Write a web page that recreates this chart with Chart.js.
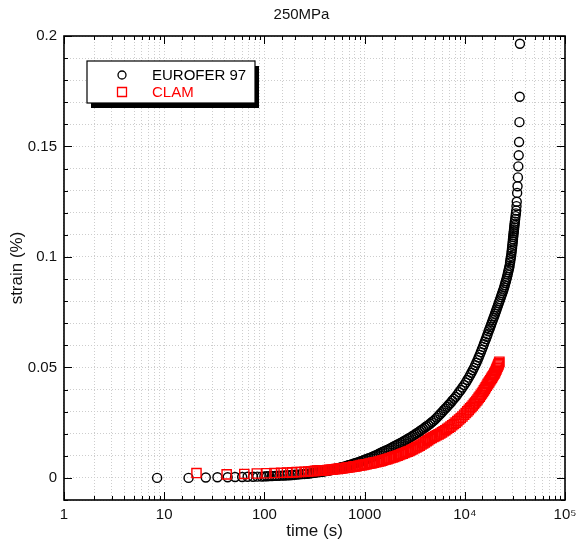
<!DOCTYPE html>
<html>
<head>
<meta charset="utf-8">
<script src="https://cdn.jsdelivr.net/npm/chart.js@4.4.0/dist/chart.umd.min.js"></script>
<style>
body { margin: 0; background: #fff; }
</style>
</head>
<body>
<canvas id="creep" width="577" height="542"></canvas>
<script>
// EUROFER 97 creep curve at 250 MPa, time (s) / strain (%)
var eurTime = [8.5, 17.5, 26, 34, 43, 51, 60, 68, 77, 85, 94,
  100, 106, 112, 119, 126, 133, 141, 150, 159, 168, 178, 189, 200, 212, 224, 238, 252, 267, 283,
  300, 312, 324, 337, 351, 365, 380, 395, 411, 427, 444, 462, 480, 500, 520, 541, 562, 585, 608, 633,
  658, 684, 712, 740, 770, 801, 833, 866, 901, 937, 974, 1013, 1054, 1096, 1140, 1185, 1233, 1282, 1333,
  1387, 1442, 1500, 1560, 1622, 1687, 1755, 1825, 1898, 1974, 2053, 2135, 2220, 2309, 2401, 2497, 2597,
  2701, 2809, 2921, 3038, 3160, 3286, 3417, 3554, 3696, 3844, 3998, 4158, 4324, 4497, 4677, 4864, 5058,
  5261, 5471, 5690, 5918, 6154, 6400, 6656, 6923, 7200, 7488, 7787, 8099, 8423, 8760, 9110, 9474, 9853,
  10247, 10600, 10950, 11300, 11650, 12000, 12350, 12700, 13050, 13400, 13750, 14100, 14450, 14800, 15150,
  15500, 15850, 16200, 16550, 16900, 17250, 17600, 17950, 18300, 18650, 19000, 19350, 19700, 20050, 20400,
  20750, 21100, 21450, 21800, 22150, 22500, 22900, 23250, 23600, 23950, 24300, 24700, 25050, 25400, 25750,
  26100, 26400, 26750, 27050, 27400, 27700, 28000, 28300, 28500, 28750, 29000, 29200, 29400, 29600, 29750,
  29950, 30100, 30250, 30400, 30550, 30700, 30850, 31000, 31150, 31300, 31450, 31600, 31850, 32100, 32350,
  32600, 32800, 33000, 33300, 33600, 33900, 34200, 34500, 34800, 35100, 35300, 35500];
var eurStrain = [0, 0, 0.0002, 0.0003, 0.0003, 0.0004, 0.0004, 0.0005, 0.0005, 0.0006, 0.0006,
  0.0007, 0.00075, 0.0008, 0.00085, 0.0009, 0.00095, 0.001, 0.00105, 0.0011, 0.0012, 0.0012, 0.0013,
  0.0014, 0.0015, 0.0016, 0.0017, 0.0018, 0.0019, 0.002,
  0.0022, 0.0023, 0.0024, 0.0025, 0.0026, 0.0027, 0.0028, 0.003, 0.0031, 0.0032, 0.0033, 0.0035, 0.0038,
  0.004, 0.0042, 0.0044, 0.0046, 0.0048, 0.005, 0.0052, 0.0054, 0.0057, 0.0059, 0.0061, 0.0064, 0.0066,
  0.0069, 0.0071, 0.0074, 0.0077, 0.008, 0.0083, 0.0086, 0.0089, 0.0092, 0.0095, 0.0098, 0.0102, 0.0105,
  0.0109, 0.0113, 0.0117, 0.012, 0.0124, 0.0127, 0.0131, 0.0135, 0.0139, 0.0144, 0.0147, 0.0151, 0.0155,
  0.0159, 0.0163, 0.0168, 0.0172, 0.0177, 0.0181, 0.0186, 0.0191, 0.0196, 0.0201, 0.0206, 0.0211, 0.0217,
  0.0222, 0.0228, 0.0234, 0.0239, 0.0245, 0.0252, 0.0258, 0.0265, 0.0273, 0.0281, 0.0289, 0.0297, 0.0306,
  0.0314, 0.0322, 0.0331, 0.0339, 0.0349, 0.0358, 0.0367, 0.0377, 0.0388, 0.0398, 0.0409, 0.042,
  0.0432, 0.0443, 0.0454, 0.0465, 0.0476, 0.0487, 0.0498, 0.051, 0.0521, 0.0533, 0.0545, 0.0557, 0.0569,
  0.0581, 0.0593, 0.0605, 0.0617, 0.0628, 0.0639, 0.065, 0.0663, 0.0673, 0.0683, 0.0693, 0.0704, 0.0714,
  0.0724, 0.0733, 0.0743, 0.0753, 0.0762, 0.0772, 0.0781, 0.079, 0.0799, 0.0808, 0.0818, 0.0827, 0.0835,
  0.0844, 0.0852, 0.0862, 0.0872, 0.0882, 0.0891, 0.0901, 0.091, 0.0921, 0.0931, 0.0941, 0.095, 0.096,
  0.0975, 0.0985, 0.0995, 0.1005, 0.1017, 0.1028, 0.1039, 0.105, 0.106, 0.107, 0.108, 0.109, 0.1099,
  0.1108, 0.1116, 0.1125, 0.1134, 0.1143, 0.1151, 0.116, 0.1172, 0.1185, 0.1197, 0.121, 0.123, 0.125,
  0.129, 0.132, 0.136, 0.141, 0.146, 0.152, 0.161, 0.1725, 0.1965];

// CLAM creep curve
var clamTime = [21, 42, 63, 84, 105, 126, 147, 168, 189, 210, 231, 252, 273, 294,
  312, 324, 337, 351, 365, 380, 395, 411, 427, 444, 462, 480, 500, 520, 541, 562, 585, 608, 633, 658, 684,
  712, 740, 770, 801, 833, 866, 901, 937, 974, 1013, 1054, 1096, 1140, 1185, 1233, 1282, 1333, 1387, 1442,
  1500, 1560, 1622, 1687, 1755, 1825, 1898, 1974, 2053, 2135, 2220, 2309, 2401, 2497, 2597, 2701, 2809,
  2921, 3038, 3160, 3286, 3417, 3554, 3696, 3844, 3998, 4158, 4324, 4497, 4677, 4864, 5058, 5261, 5471,
  5690, 5918, 6154, 6400, 6656, 6923, 7200, 7488, 7787, 8099, 8423, 8760, 9110, 9474, 9853, 10247, 10600,
  10950, 11300, 11650, 12000, 12350, 12700, 13050, 13400, 13750, 14100, 14450, 14800, 15150, 15500, 15850,
  16200, 16550, 16900, 17250, 17600, 17950, 18300, 18650, 19000, 19350, 19700, 20000, 20300, 20600, 20900,
  21200, 21450, 21700, 21950, 22150];
var clamStrain = [0.0022, 0.0016, 0.0018, 0.002, 0.0021, 0.0022, 0.0023, 0.0024, 0.0025, 0.0026, 0.0027,
  0.0028, 0.0029, 0.003,
  0.0031, 0.0032, 0.0033, 0.0033, 0.0034, 0.0034, 0.0035, 0.0035, 0.0036, 0.0037, 0.0037, 0.0038, 0.0039,
  0.004, 0.0041, 0.0042, 0.0043, 0.0044, 0.0045, 0.0046, 0.0047, 0.0048, 0.0049, 0.0051, 0.0052, 0.0053,
  0.0055, 0.0056, 0.0058, 0.0059, 0.0061, 0.0062, 0.0064, 0.0065, 0.0067, 0.0069, 0.0071, 0.0072, 0.0074,
  0.0076, 0.0078, 0.0081, 0.0083, 0.0085, 0.0088, 0.009, 0.0093, 0.0095, 0.0098, 0.0101, 0.0104, 0.0107,
  0.011, 0.0113, 0.0116, 0.0119, 0.0122, 0.0126, 0.013, 0.0134, 0.0138, 0.0142, 0.0146, 0.0151, 0.0156,
  0.0161, 0.0166, 0.0171, 0.0177, 0.0181, 0.0185, 0.0189, 0.0193, 0.0197, 0.0201, 0.0206, 0.0211, 0.0216,
  0.0221, 0.0227, 0.0232, 0.0238, 0.0244, 0.025, 0.0257, 0.0264, 0.0271, 0.0278, 0.0286, 0.0294, 0.0301,
  0.0308, 0.0315, 0.0321, 0.0328, 0.0335, 0.0341, 0.0348, 0.0355, 0.0362, 0.0368, 0.0375, 0.0382, 0.0389,
  0.0396, 0.0403, 0.041, 0.0417, 0.0424, 0.043, 0.0436, 0.0442, 0.0448, 0.0454, 0.046, 0.0466, 0.0472,
  0.0477, 0.0484, 0.049, 0.0497, 0.0503, 0.0509, 0.0514, 0.052, 0.0526];

var xTickLabels = { 1: '1', 10: '10', 100: '100', 1000: '1000', 10000: '10⁴', 100000: '10⁵' };
var yTickLabels = [0, 0.05, 0.1, 0.15, 0.2];

var FONT = '"Liberation Sans", Arial, Helvetica, sans-serif';

function pairs(t, s) {
  return t.map(function (v, i) { return { x: v, y: s[i] }; });
}

function isDecade(v) {
  var l = Math.log10(v);
  return Math.abs(l - Math.round(l)) < 1e-9;
}

function isYMajor(v) {
  return Math.abs(Math.round(v * 100) % 5) === 0;
}

// box round the plot and the inward ticks on all four sides
var framePlugin = {
  id: 'frame',
  afterLayout: function (chart) {
    // the title sits a little right of the canvas centre in the original
    if (chart.titleBlock) chart.titleBlock.left += 38;
  },
  afterDraw: function (chart) {
    var ctx = chart.ctx, ca = chart.chartArea;
    var xs = chart.scales.x, ys = chart.scales.y;
    ctx.save();
    ctx.strokeStyle = '#000';
    ctx.lineWidth = 1;
    ctx.beginPath();
    xs.ticks.forEach(function (t) {
      var p = Math.round(xs.getPixelForValue(t.value)) + 0.5;
      var len = isDecade(t.value) ? 8 : 4;
      ctx.moveTo(p, ca.bottom); ctx.lineTo(p, ca.bottom - len);
      ctx.moveTo(p, ca.top); ctx.lineTo(p, ca.top + len);
    });
    ys.ticks.forEach(function (t) {
      var p = Math.round(ys.getPixelForValue(t.value)) + 0.5;
      var len = isYMajor(t.value) ? 8 : 4;
      ctx.moveTo(ca.left, p); ctx.lineTo(ca.left + len, p);
      ctx.moveTo(ca.right, p); ctx.lineTo(ca.right - len, p);
    });
    ctx.stroke();
    ctx.lineWidth = 1.6;
    ctx.strokeRect(ca.left, ca.top, ca.right - ca.left, ca.bottom - ca.top);
    ctx.restore();
  }
};

// legend box with a drop shadow
var legendPlugin = {
  id: 'boxLegend',
  afterDraw: function (chart) {
    var ctx = chart.ctx;
    var bx = 87, by = 61, bw = 168, bh = 42;
    ctx.save();
    ctx.fillStyle = '#000';
    ctx.fillRect(bx + 4, by + 5, bw, bh);
    ctx.fillStyle = '#fff';
    ctx.fillRect(bx, by, bw, bh);
    ctx.strokeStyle = '#000';
    ctx.lineWidth = 1.2;
    ctx.strokeRect(bx, by, bw, bh);
    ctx.font = '15px ' + FONT;
    ctx.textBaseline = 'middle';
    chart.data.datasets.forEach(function (ds, i) {
      var cy = by + 14 + i * 17, cx = bx + 35;
      ctx.strokeStyle = ds.borderColor;
      ctx.lineWidth = 1.3;
      ctx.beginPath();
      if (ds.pointStyle === 'rect') {
        ctx.rect(cx - 4.5, cy - 4.5, 9, 9);
      } else {
        ctx.arc(cx, cy, 4, 0, Math.PI * 2);
      }
      ctx.stroke();
      ctx.fillStyle = ds.borderColor;
      ctx.fillText(ds.label, bx + 65, cy + 1);
    });
    ctx.restore();
  }
};

var creepChart = new Chart(document.getElementById('creep').getContext('2d'), {
  type: 'scatter',
  data: {
    datasets: [{
      label: 'EUROFER 97',
      data: pairs(eurTime, eurStrain),
      pointStyle: 'circle',
      pointRadius: 4.5,
      borderColor: '#000000',
      backgroundColor: 'rgba(0,0,0,0)',
      borderWidth: 1.4,
      order: 2
    }, {
      label: 'CLAM',
      data: pairs(clamTime, clamStrain),
      pointStyle: 'rect',
      pointRadius: 6.5,
      borderColor: '#ff0000',
      backgroundColor: 'rgba(0,0,0,0)',
      borderWidth: 1.4,
      order: 1
    }]
  },
  options: {
    responsive: false,
    animation: false,
    devicePixelRatio: 1,
    layout: { padding: { left: 0, right: 12, top: 0, bottom: 0 } },
    plugins: {
      legend: { display: false },
      tooltip: { enabled: false },
      title: {
        display: true,
        text: '250MPa',
        color: '#111',
        font: { family: FONT, size: 15, weight: 'normal' },
        padding: { top: 6, bottom: 12 }
      }
    },
    scales: {
      x: {
        type: 'logarithmic',
        min: 1,
        max: 100000,
        afterFit: function (scale) { scale.paddingRight = 0; },
        border: { display: false, dash: [1, 2] },
        grid: { color: '#cdcdcd', lineWidth: 1, drawTicks: false },
        ticks: {
          autoSkip: false,
          maxRotation: 0,
          padding: 6,
          color: '#111',
          font: { family: FONT, size: 15 },
          callback: function (v) { return xTickLabels[v] || ''; }
        },
        title: {
          display: true,
          text: 'time (s)',
          color: '#111',
          font: { family: FONT, size: 17, lineHeight: 1 },
          padding: { top: -7.5, bottom: 2.5 }
        }
      },
      y: {
        min: -0.01,
        max: 0.2,
        border: { display: false, dash: [1, 2] },
        grid: { color: '#cdcdcd', lineWidth: 1, drawTicks: false },
        ticks: {
          stepSize: 0.01,
          autoSkip: false,
          padding: 7,
          color: '#111',
          font: { family: FONT, size: 15 },
          callback: function (v) {
            var r = Math.round(v * 100) / 100;
            return yTickLabels.indexOf(r) >= 0 ? String(r) : '';
          }
        },
        title: {
          display: true,
          text: 'strain (%)',
          color: '#111',
          font: { family: FONT, size: 17, lineHeight: 1 },
          padding: { top: 9, bottom: -5.2 }
        }
      }
    }
  },
  plugins: [framePlugin, legendPlugin]
});
</script>
</body>
</html>
